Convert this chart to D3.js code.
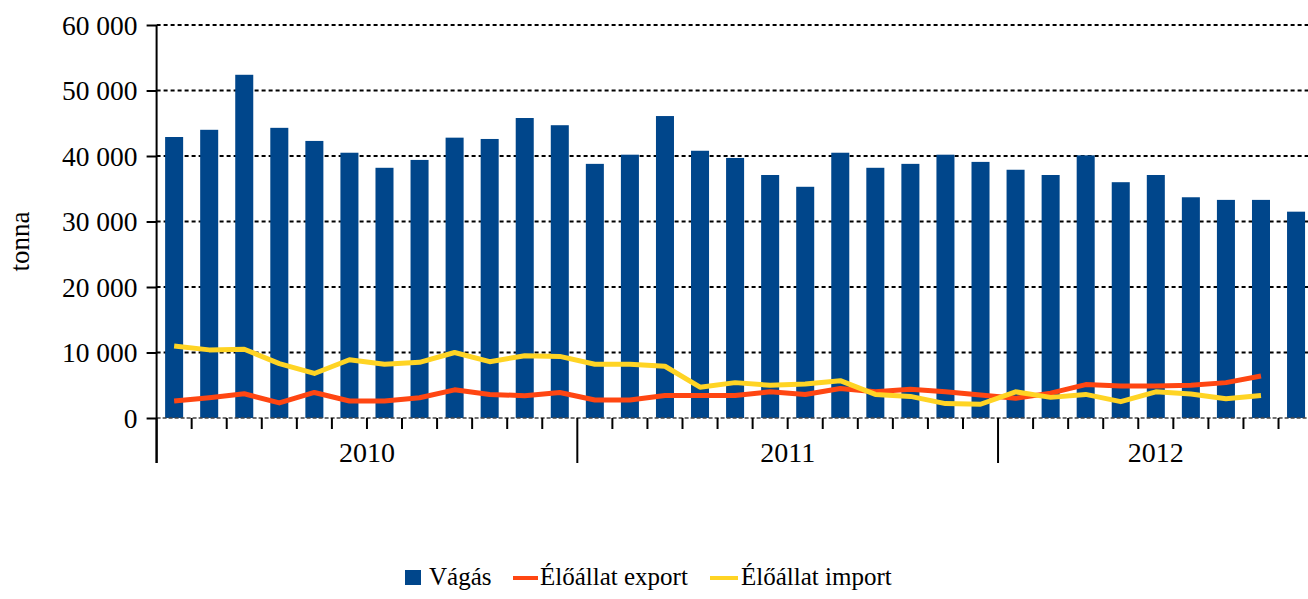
<!DOCTYPE html>
<html>
<head>
<meta charset="utf-8">
<script src="https://cdn.jsdelivr.net/npm/d3@7"></script>
<style>
  body { margin: 0; background: #fff; }
</style>
</head>
<body>
<div class="viz"></div>
<script>
// months shown on the x axis (2010-01 .. 2012-09)
const years = ["2010", "2011", "2012"];
const monthsPerYear = [12, 12, 9];
const months = [];
years.forEach((y, i) => {
  for (let m = 1; m <= monthsPerYear[i]; m++) months.push(y + "-" + String(m).padStart(2, "0"));
});

// Vágás (tonna), one bar per month
const vagas = [42900, 44000, 52400, 44300, 42300, 40500, 38200, 39400, 42800, 42600, 45800, 44700,
  38800, 40200, 46100, 40800, 39700, 37100, 35300, 40500, 38200, 38800, 40200, 39100,
  37900, 37100, 40100, 36000, 37100, 33700, 33300, 33300, 31500];

// Élőállat export (tonna)
const exportValues = [2600, 3100, 3700, 2300, 3900, 2600, 2600, 3100, 4300, 3600, 3400, 3900,
  2750, 2750, 3450, 3450, 3450, 4000, 3600, 4500, 4000, 4400, 4000, 3500,
  3000, 3800, 5100, 4900, 4900, 5000, 5400, 6400];

// Élőállat import (tonna)
const importValues = [11000, 10400, 10500, 8300, 6800, 8900, 8200, 8500, 10000, 8600, 9500, 9400,
  8200, 8200, 7900, 4700, 5400, 5000, 5200, 5700, 3600, 3300, 2200, 2100,
  4000, 3150, 3600, 2500, 4000, 3650, 2950, 3450];

const yTicks = [0, 10000, 20000, 30000, 40000, 50000, 60000];
const seriesNames = ["Vágás", "Élőállat export", "Élőállat import"];
const colors = { bar: "#00468b", exp: "#ff4612", imp: "#ffd424" };
const FONT = "'Liberation Serif', 'Times New Roman', serif";

class BarLineChart {
  constructor(_config) {
    this.config = {
      parentElement: _config.parentElement,
      containerWidth: _config.containerWidth || 1308,
      containerHeight: _config.containerHeight || 599,
      // the plot runs past the right edge, like in the original picture
      margin: _config.margin || { top: 25, left: 156.6, bottom: 181 },
      step: _config.step || 35.06
    };
    this.initVis();
  }

  initVis() {
    let vis = this;
    const m = vis.config.margin;
    vis.height = vis.config.containerHeight - m.top - m.bottom;
    vis.width = vis.config.step * months.length;

    vis.root = d3.select(vis.config.parentElement)
      .append("svg")
      .attr("width", vis.config.containerWidth)
      .attr("height", vis.config.containerHeight)
      .style("font-family", FONT);
    vis.svg = vis.root.append("g")
      .attr("transform", "translate(" + m.left + "," + m.top + ")");

    // scales
    const x = d3.scaleBand()
      .domain(months)
      .range([0, vis.width])
      .paddingInner(0.486)
      .paddingOuter(0.243);
    const y = d3.scaleLinear().domain([0, 60000]).range([vis.height, 0]);
    const step = x.step();

    const fmt = d3.formatLocale({ decimal: ",", thousands: " ", grouping: [3], currency: ["", ""] }).format(",");

    // dotted grid lines
    vis.svg.append("g")
      .selectAll("line")
      .data(yTicks.filter(d => d > 0))
      .join("line")
      .attr("x1", 0)
      .attr("x2", vis.width)
      .attr("y1", d => y(d))
      .attr("y2", d => y(d))
      .attr("stroke", "#000")
      .attr("stroke-width", 2)
      .attr("stroke-dasharray", "4,3");

    // bars
    vis.svg.append("g")
      .selectAll("rect")
      .data(vagas)
      .join("rect")
      .attr("x", (d, i) => x(months[i]))
      .attr("y", d => y(d))
      .attr("width", x.bandwidth())
      .attr("height", d => vis.height - y(d))
      .attr("fill", colors.bar);

    // x axis base line
    vis.svg.append("line")
      .attr("x1", 0).attr("x2", vis.width)
      .attr("y1", vis.height).attr("y2", vis.height)
      .attr("stroke", "#444")
      .attr("stroke-width", 1.5)
      .attr("stroke-dasharray", "4,2");

    // month ticks, longer ones between years
    let yearStart = [0];
    monthsPerYear.forEach((n, i) => yearStart.push(yearStart[i] + n));
    vis.svg.append("g")
      .selectAll("line")
      .data(months.map((d, i) => i).concat([months.length]))
      .join("line")
      .attr("x1", i => i * step)
      .attr("x2", i => i * step)
      .attr("y1", vis.height)
      .attr("y2", i => yearStart.includes(i) ? vis.height + 45 : vis.height + 11)
      .attr("stroke", "#000")
      .attr("stroke-width", 2);

    // year labels
    vis.svg.append("g")
      .selectAll("text")
      .data(years)
      .join("text")
      .attr("x", (d, i) => (yearStart[i] + yearStart[i + 1]) / 2 * step)
      .attr("y", vis.height + 44)
      .attr("text-anchor", "middle")
      .style("font-family", FONT)
      .style("font-size", "28px")
      .text(d => d);

    // y axis
    const yAxis = vis.svg.append("g")
      .call(d3.axisLeft(y).tickValues(yTicks).tickFormat(fmt).tickSize(10).tickPadding(9));
    yAxis.select(".domain").remove();
    yAxis.selectAll(".tick line").attr("stroke", "#000").attr("stroke-width", 2);
    yAxis.selectAll(".tick text")
      .attr("fill", "#000")
      .attr("dy", "0.34em")
      .style("font-family", FONT)
      .style("font-size", "27.5px");
    vis.svg.append("line")
      .attr("x1", 0).attr("x2", 0)
      .attr("y1", 0).attr("y2", vis.height + 45)
      .attr("stroke", "#000")
      .attr("stroke-width", 2);

    vis.svg.append("text")
      .attr("transform", "translate(" + (-128) + "," + (vis.height / 2 + 20) + ") rotate(-90)")
      .attr("text-anchor", "middle")
      .style("font-family", FONT)
      .style("font-size", "27px")
      .text("tonna");

    // lines
    const line = d3.line()
      .x((d, i) => x(months[i]) + x.bandwidth() / 2)
      .y(d => y(d));
    [[exportValues, colors.exp], [importValues, colors.imp]].forEach(([vals, c]) => {
      vis.svg.append("path")
        .datum(vals)
        .attr("d", line)
        .attr("fill", "none")
        .attr("stroke", c)
        .attr("stroke-width", 5)
        .attr("stroke-linejoin", "round");
    });

    // legend
    const legend = vis.root.append("g")
      .attr("transform", "translate(405,585)")
      .style("font-family", FONT)
      .style("font-size", "25px");
    legend.append("rect")
      .attr("x", 0).attr("y", -15)
      .attr("width", 16).attr("height", 15)
      .attr("fill", colors.bar);
    legend.append("text").attr("x", 24).attr("y", 0).text(seriesNames[0]);
    legend.append("line")
      .attr("x1", 108).attr("x2", 133).attr("y1", -7).attr("y2", -7)
      .attr("stroke", colors.exp).attr("stroke-width", 4);
    legend.append("text").attr("x", 135).attr("y", 0).text(seriesNames[1]);
    legend.append("line")
      .attr("x1", 305).attr("x2", 333).attr("y1", -7).attr("y2", -7)
      .attr("stroke", colors.imp).attr("stroke-width", 4);
    legend.append("text").attr("x", 336).attr("y", 0).text(seriesNames[2]);
  }
}

const chart = new BarLineChart({ parentElement: ".viz" });
</script>
</body>
</html>
